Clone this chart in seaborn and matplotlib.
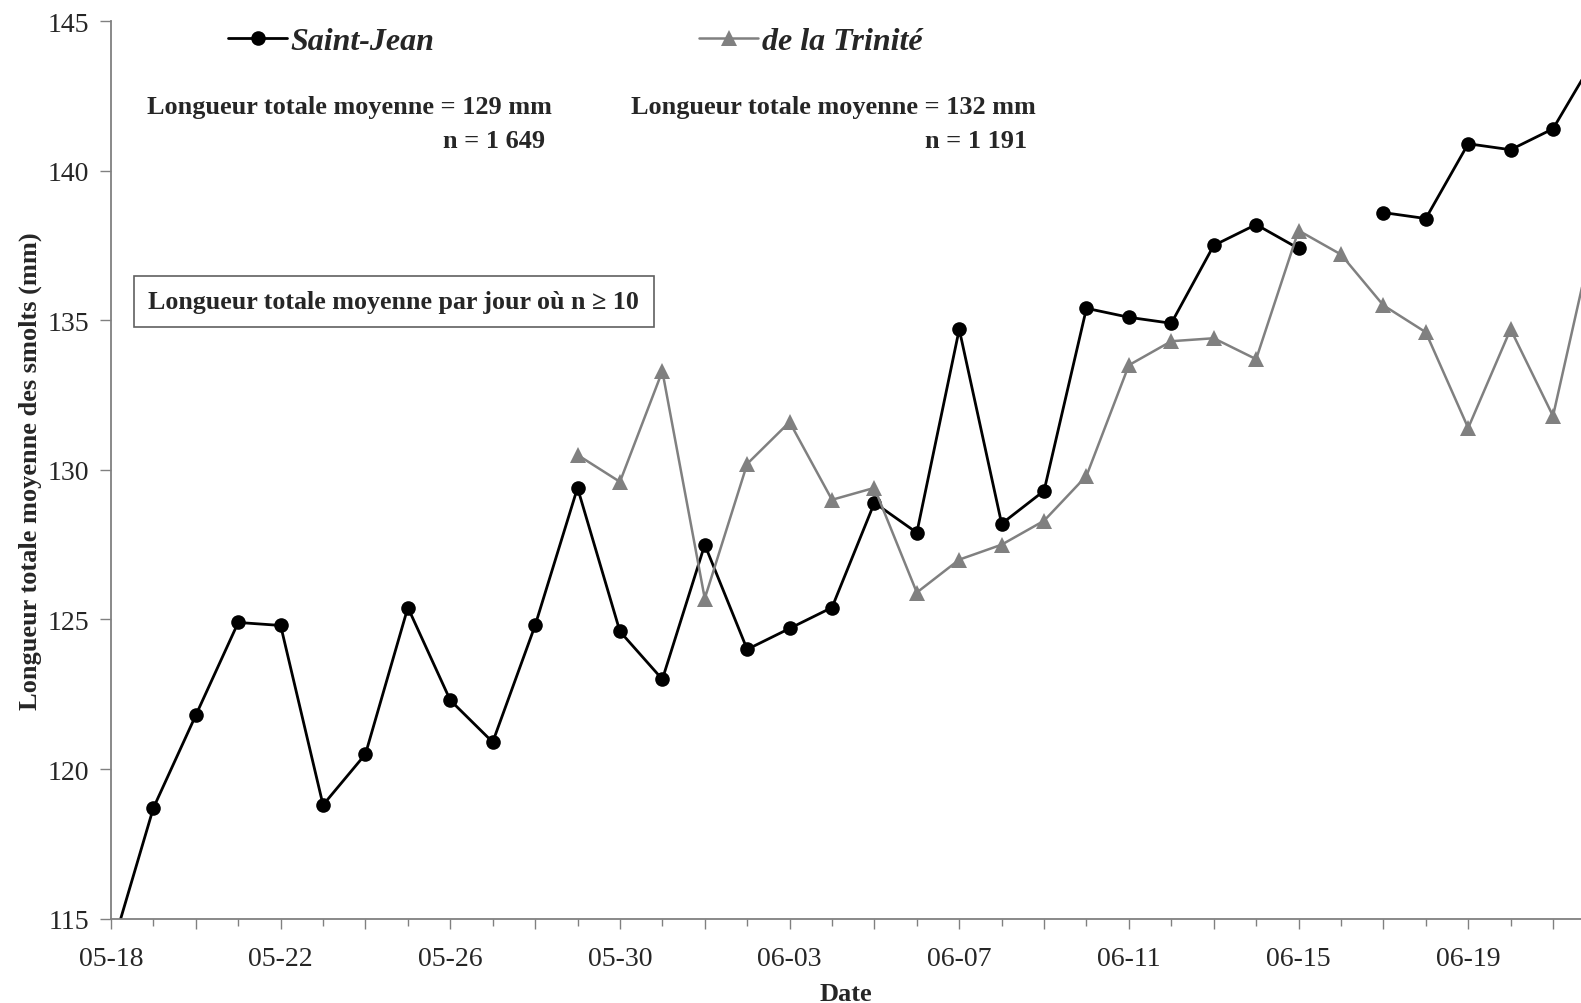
import numpy as np
import pandas as pd
import matplotlib
matplotlib.use('Agg')
import matplotlib.pyplot as plt
from matplotlib.lines import Line2D
import seaborn as sns

nan = np.nan

# daily dates (year not shown on the chart)
dates = ['2008-05-18', '2008-05-19', '2008-05-20', '2008-05-21', '2008-05-22', '2008-05-23',
         '2008-05-24', '2008-05-25', '2008-05-26', '2008-05-27', '2008-05-28', '2008-05-29',
         '2008-05-30', '2008-05-31', '2008-06-01', '2008-06-02', '2008-06-03', '2008-06-04',
         '2008-06-05', '2008-06-06', '2008-06-07', '2008-06-08', '2008-06-09', '2008-06-10',
         '2008-06-11', '2008-06-12', '2008-06-13', '2008-06-14', '2008-06-15', '2008-06-16',
         '2008-06-17', '2008-06-18', '2008-06-19', '2008-06-20', '2008-06-21', '2008-06-22']

saint_jean = [113.9, 118.7, 121.8, 124.9, 124.8, 118.8, 120.5, 125.4, 122.3, 120.9, 124.8, 129.4,
              124.6, 123.0, 127.5, 124.0, 124.7, 125.4, 128.9, 127.9, 134.7, 128.2, 129.3, 135.4,
              135.1, 134.9, 137.5, 138.2, 137.4, nan, 138.6, 138.4, 140.9, 140.7, 141.4, 143.8]

trinite = [nan, nan, nan, nan, nan, nan, nan, nan, nan, nan, nan, 130.5,
           129.6, 133.3, 125.7, 130.2, 131.6, 129.0, 129.4, 125.9, 127.0, 127.5, 128.3, 129.8,
           133.5, 134.3, 134.4, 133.7, 138.0, 137.2, 135.5, 134.6, 131.4, 134.7, 131.8, 138.1]

tick_dates = ['2008-05-18', '2008-05-20', '2008-05-22', '2008-05-24', '2008-05-26', '2008-05-28',
              '2008-05-30', '2008-06-01', '2008-06-03', '2008-06-05', '2008-06-07', '2008-06-09',
              '2008-06-11', '2008-06-13', '2008-06-15', '2008-06-17', '2008-06-19', '2008-06-21']
tick_labels = ['05-18', '', '05-22', '', '05-26', '', '05-30', '', '06-03', '', '06-07', '',
               '06-11', '', '06-15', '', '06-19', '']

sites = ['Saint-Jean', 'de la Trinité']
stats_mean = ['Longueur totale moyenne = 129 mm', 'Longueur totale moyenne = 132 mm']
stats_n = ['n = 1 649', 'n = 1 191']
note = 'Longueur totale moyenne par jour où n ≥ 10'

sns.set_theme(style='ticks')
plt.rcParams['font.family'] = ['Liberation Serif', 'DejaVu Serif']
plt.rcParams['axes.edgecolor'] = '#808080'

frames = []
for name, vals in zip(sites, [saint_jean, trinite]):
    d = pd.DataFrame({'date': pd.to_datetime(dates), 'value': vals, 'site': name})
    d['segment'] = d['value'].isna().cumsum()
    frames.append(d.dropna())
df = pd.concat(frames)

fig = plt.figure(figsize=(15.81, 10.04), dpi=100)
ax = fig.add_axes([0.0702, 0.084, 0.9298, 0.894])

styles = {'Saint-Jean': dict(color='black', marker='o', markersize=10.5, linewidth=2.0),
          'de la Trinité': dict(color='#808080', marker='^', markersize=11.5, linewidth=1.8)}
for name in sites:
    sns.lineplot(data=df[df['site'] == name], x='date', y='value', units='segment',
                 estimator=None, ax=ax, markeredgewidth=0, **styles[name])

ax.set_yticks([115, 120, 125, 130, 135, 140, 145])
ax.set_xticks(pd.to_datetime(tick_dates))
ax.set_xticklabels(tick_labels)
ax.set_xticks(pd.to_datetime(dates[:-1]), minor=True)
x0 = pd.Timestamp('2008-05-18')
ax.set_xlim(x0, x0 + pd.Timedelta(days=34.66))
ax.set_ylim(115, 145)
ax.tick_params(axis='x', which='major', length=7, width=1, color='#808080', labelsize=20, pad=12.5)
ax.tick_params(axis='x', which='minor', length=5, width=1, color='#808080')
ax.tick_params(axis='y', length=8, width=1, color='#808080', labelsize=20, pad=8)
for s in ['top', 'right']:
    ax.spines[s].set_visible(False)
for s in ['left', 'bottom']:
    ax.spines[s].set_linewidth(1.3)

ax.set_xlabel('Date', fontsize=19, fontweight='bold', labelpad=8)
ax.set_ylabel('Longueur totale moyenne des smolts (mm)', fontsize=19, fontweight='bold', labelpad=4)

handles = [Line2D([], [], **styles[n], markeredgewidth=0) for n in sites]
ax.legend(handles, sites, ncol=2, loc='center left', bbox_to_anchor=(0.0796, 0.9775),
          frameon=False, handlelength=1.85, handletextpad=0.1, columnspacing=8.3,
          borderpad=0, borderaxespad=0,
          prop={'family': 'Liberation Serif', 'weight': 'bold', 'style': 'italic', 'size': 23})

for xm, xn, m, n in zip([0.0247, 0.354], [0.295, 0.6235], stats_mean, stats_n):
    ax.text(xm, 0.9045, m, transform=ax.transAxes, fontsize=18.9, fontweight='bold',
            ha='left', va='center')
    ax.text(xn, 0.8675, n, transform=ax.transAxes, fontsize=18.9, fontweight='bold',
            ha='right', va='center')

ax.text(0.1924, 0.6876, note, transform=ax.transAxes, fontsize=18.7, fontweight='bold',
        ha='center', va='center',
        bbox=dict(boxstyle='square,pad=0.55', facecolor='white', edgecolor='#606060', linewidth=1.2))

fig.savefig('out.png', dpi=100)
